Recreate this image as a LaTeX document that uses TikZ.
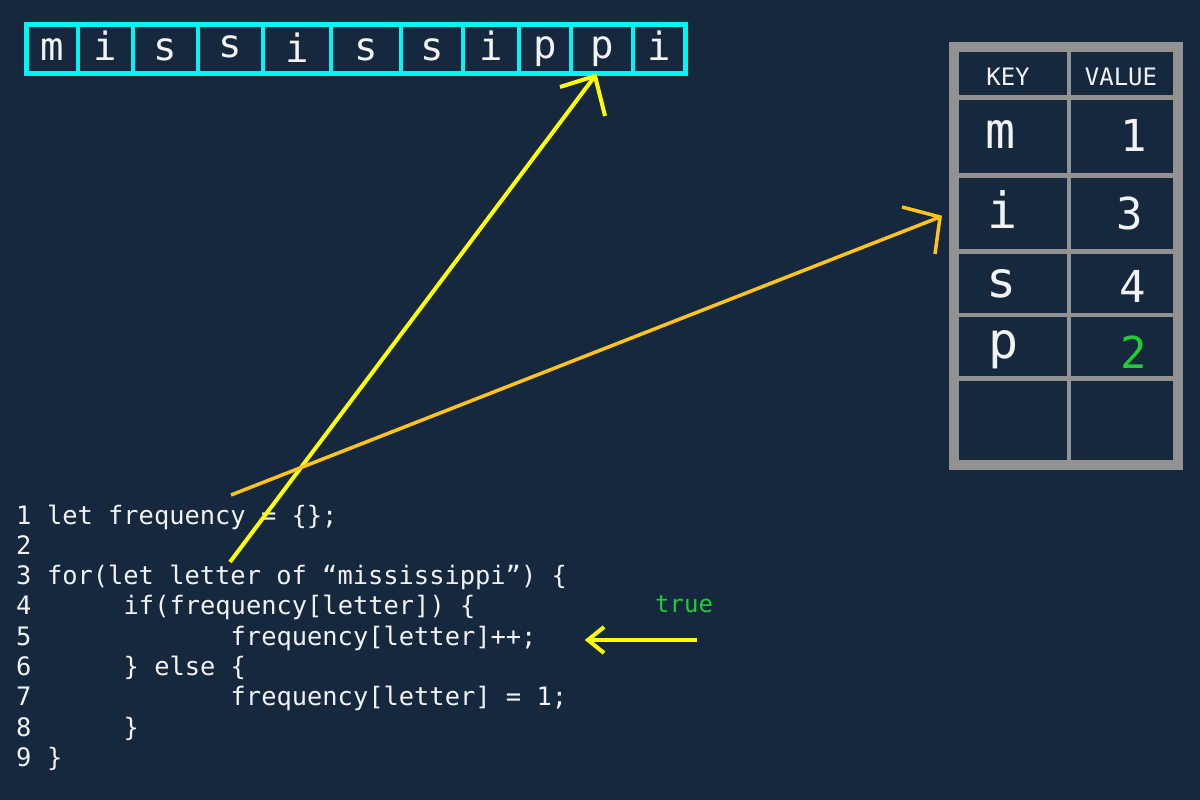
\documentclass[tikz,border=0pt]{standalone}
\usepackage{fontspec}
\setmonofont{DejaVu Sans Mono}
\definecolor{bg}{RGB}{21,40,62}
\definecolor{cyanline}{RGB}{0,245,245}
\definecolor{tgray}{RGB}{146,146,146}
\definecolor{txtwhite}{RGB}{242,242,242}
\definecolor{ylw}{RGB}{255,255,0}
\definecolor{org}{RGB}{255,196,28}
\definecolor{grn}{RGB}{34,204,51}
\begin{document}
\begin{tikzpicture}[x=1pt,y=-1pt,
  mono/.style={font=\ttfamily, text=txtwhite, inner sep=0pt},
  arrtxt/.style={mono, font=\ttfamily\fontsize{39}{41}\selectfont, anchor=base},
  cellbox/.style={draw=cyanline, line width=3.5pt, inner sep=0pt, minimum height=49pt},
  hdr/.style={mono, font=\ttfamily\fontsize{24}{26}\selectfont, anchor=base},
  keytxt/.style={mono, font=\ttfamily\fontsize{50}{52}\selectfont, anchor=base},
  valtxt/.style={mono, font=\ttfamily\fontsize{44}{46}\selectfont, anchor=base},
  code/.style={mono, font=\ttfamily\fontsize{25.4}{28}\selectfont, anchor=base west},
  ylwarrow/.style={draw=ylw, line width=4pt},
  orgarrow/.style={draw=org, line width=3.5pt}
]
\fill[bg] (0,0) rectangle (1200,800);
\useasboundingbox (0,0) rectangle (1200,800);

% ---------- array of letters ----------
\foreach \i/\l/\r/\ch/\bl in {1/26.5/78/m/60, 2/78/133/i/60, 3/133/198/s/60, 4/198/263/s/58,
  5/263/331/i/63, 6/331/401/s/60, 7/401/463/s/60, 8/463/519/i/60, 9/519/571/p/59,
  10/571/633/p/59, 11/633/685.5/i/60}{
  \node[cellbox, minimum width={\r-\l}] (c\i) at ({(\l+\r)/2},49) {};
  \node[arrtxt] (t\i) at ({(\l+\r)/2},\bl) {\ch};
}
\draw[cyanline, line width=5pt] (26.5,24.5) rectangle (685.5,73.5);

% ---------- table ----------
\node[draw=tgray, line width=9.5pt, minimum width=224pt, minimum height=418pt, inner sep=0pt] (tbl) at (1066,256) {};
\draw[tgray, line width=4pt] (1069,52) -- (1069,460);
\foreach \y in {97.5,175.5,251.5,315,378.5}{
  \draw[tgray, line width=4.5pt] (959,\y) -- (1173,\y);
}
\node[hdr] (hkey) at (1008,85) {KEY};
\node[hdr] (hval) at (1121,85) {VALUE};
\node[keytxt] (km) at (1001,148) {m};
\node[keytxt] (ki) at (1003,228) {i};
\node[keytxt] (ks) at (1002,297) {s};
\node[keytxt] (kp) at (1004,358) {p};
\node[valtxt] (v1) at (1134,151) {1};
\node[valtxt] (v3) at (1130,229) {3};
\node[valtxt] (v4) at (1133,302) {4};
\node[valtxt, text=grn] (v2) at (1134,368) {2};

% ---------- code ----------
\foreach \n/\y in {1/524,2/554.3,3/584.6,4/614.9,5/645.2,6/675.5,7/705.8,8/736.1,9/766.4}{
  \node[code] (n\n) at (16,\y) {\n};
}
\node[code] (l1) at (46.8,524) {let frequency = \{\};};
\node[code] (l3) at (46.8,584.6) {for(let letter of “mississippi”) \{};
\node[code] (l4) at (123.5,614.9) {if(frequency[letter]) \{};
\node[code] (l5) at (230.5,645.2) {frequency[letter]++;};
\node[code] (l6) at (123.5,675.5) {\} else \{};
\node[code] (l7) at (230.5,705.8) {frequency[letter] = 1;};
\node[code] (l8) at (123.5,736.1) {\}};
\node[code] (l9) at (46.8,766.4) {\}};
\node[mono, font=\ttfamily\fontsize{24}{26}\selectfont, text=grn, anchor=base west] (tru) at (655,612) {true};

% ---------- arrows ----------
\coordinate (a1s) at (230,562);
\coordinate (a1t) at (595,76);
\coordinate (a1h1) at (560,87);
\coordinate (a1h2) at (605,116);
\draw[ylwarrow] (a1s) -- (a1t);
\draw[ylwarrow] (a1h1) -- (a1t) -- (a1h2);

\coordinate (a2s) at (231,495);
\coordinate (a2t) at (940,217);
\coordinate (a2h1) at (902,207);
\coordinate (a2h2) at (935,254);
\draw[orgarrow] (a2s) -- (a2t);
\draw[orgarrow] (a2h1) -- (a2t) -- (a2h2);

\coordinate (a3s) at (697,640);
\coordinate (a3t) at (588,640);
\coordinate (a3h1) at (604,627);
\coordinate (a3h2) at (604,653);
\draw[ylwarrow] (a3s) -- (a3t);
\draw[ylwarrow] (a3h1) -- (a3t) -- (a3h2);
\end{tikzpicture}
\end{document}
